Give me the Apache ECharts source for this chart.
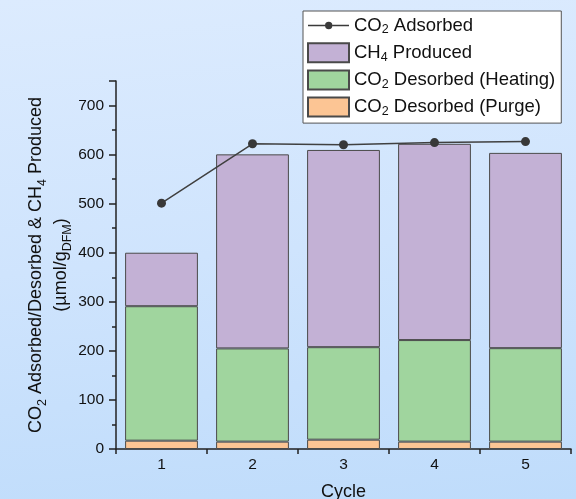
<!DOCTYPE html>
<html>
<head>
<meta charset="utf-8">
<script src="https://cdn.jsdelivr.net/npm/echarts@6/dist/echarts.min.js"></script>
<style>
html,body{margin:0;padding:0;}
#c{width:576px;height:499px;background:linear-gradient(175deg,#dcebfe 0%,#cfe4fd 50%,#bfdcfb 100%);}
</style>
</head>
<body>
<div id="c"></div>
<script>
var categories = ['1', '2', '3', '4', '5'];
var co2Adsorbed = [501, 622, 620, 624.5, 626.5];
var purge = [17, 15, 19, 15, 15];
var heating = [274, 190, 188.5, 207, 190.5];
var ch4 = [109, 395.5, 402, 400, 398];

var FONT = 'Liberation Sans, Arial, sans-serif';
var legendNames = {
  'CO2 Adsorbed': '{a|CO}{s|2}{a| Adsorbed}',
  'CH4 Produced': '{a|CH}{s|4}{a| Produced}',
  'CO2 Desorbed (Heating)': '{a|CO}{s|2}{a| Desorbed (Heating)}',
  'CO2 Desorbed (Purge)': '{a|CO}{s|2}{a| Desorbed (Purge)}'
};
var richMain = {
  a: {fontSize: 18.5, fontFamily: FONT, color: '#111', lineHeight: 22},
  s: {fontSize: 12.5, fontFamily: FONT, color: '#111', lineHeight: 16, verticalAlign: 'bottom'}
};
var richAxis = {
  a: {fontSize: 18, fontFamily: FONT, color: '#111', lineHeight: 25},
  s: {fontSize: 12.5, fontFamily: FONT, color: '#111', lineHeight: 18, verticalAlign: 'bottom'}
};
var barBorder = {borderColor: '#4a4a4a', borderWidth: 1};
var lineIcon = 'path://M0,3.1 L17,3.1 L17,4.5 L0,4.5 Z M24.4,3.1 L41,3.1 L41,4.5 L24.4,4.5 Z M17,3.8 A3.7,3.7 0 1,0 24.4,3.8 A3.7,3.7 0 1,0 17,3.8 Z';

var chart = echarts.init(document.getElementById('c'), null, {renderer: 'canvas'});
chart.setOption({
  backgroundColor: 'transparent',
  animation: false,
  grid: {left: 116, right: 5, top: 81, bottom: 50, containLabel: false, outerBoundsMode: 'none'},
  legend: {
    orient: 'vertical',
    left: 303, top: 11,
    padding: [5, 6, 5, 4],
    itemWidth: 41, itemHeight: 19, itemGap: 5.7,
    backgroundColor: '#ffffff',
    borderColor: '#555', borderWidth: 1,
    textStyle: {rich: richMain},
    formatter: function (n) { return legendNames[n]; },
    data: [
      {name: 'CO2 Adsorbed', icon: lineIcon, itemStyle: {color: '#3a3a3a'}},
      {name: 'CH4 Produced', icon: 'rect'},
      {name: 'CO2 Desorbed (Heating)', icon: 'rect'},
      {name: 'CO2 Desorbed (Purge)', icon: 'rect'}
    ]
  },
  xAxis: {
    type: 'category',
    data: categories,
    name: 'Cycle',
    nameLocation: 'middle',
    nameGap: 34,
    nameMoveOverlap: false,
    nameTextStyle: {fontSize: 18, fontFamily: FONT, color: '#111'},
    axisLine: {lineStyle: {color: '#222', width: 1.5}},
    axisTick: {show: true, length: 5, lineStyle: {color: '#222', width: 1.5}},
    axisLabel: {fontSize: 15.5, fontFamily: FONT, color: '#111', margin: 8}
  },
  yAxis: {
    type: 'value',
    min: 0, max: 750, interval: 100,
    name: '{a|CO}{s|2}{a| Adsorbed/Desorbed & CH}{s|4}{a| Produced}\n{a|(µmol/g}{s|DFM}{a|)}',
    nameLocation: 'middle',
    nameGap: 42,
    nameMoveOverlap: false,
    nameTextStyle: {rich: richAxis},
    axisLine: {show: true, lineStyle: {color: '#222', width: 1.5}},
    axisTick: {show: true, length: 7, lineStyle: {color: '#222', width: 1.5}},
    minorTick: {show: true, splitNumber: 2, length: 4, lineStyle: {color: '#222', width: 1.5}},
    splitLine: {show: false},
    axisLabel: {fontSize: 15.5, fontFamily: FONT, color: '#111', margin: 12, showMaxLabel: false}
  },
  series: [
    {name: 'CO2 Desorbed (Purge)', type: 'bar', stack: 's', data: purge, barCategoryGap: '20%',
     itemStyle: Object.assign({color: '#fcc594'}, barBorder)},
    {name: 'CO2 Desorbed (Heating)', type: 'bar', stack: 's', data: heating,
     itemStyle: Object.assign({color: '#a0d59e'}, barBorder)},
    {name: 'CH4 Produced', type: 'bar', stack: 's', data: ch4,
     itemStyle: Object.assign({color: '#c3b1d5'}, barBorder)},
    {name: 'CO2 Adsorbed', type: 'line', data: co2Adsorbed, z: 5,
     symbol: 'circle', symbolSize: 9,
     lineStyle: {color: '#404040', width: 1.5},
     itemStyle: {color: '#383838'}}
  ]
});
</script>
</body>
</html>
